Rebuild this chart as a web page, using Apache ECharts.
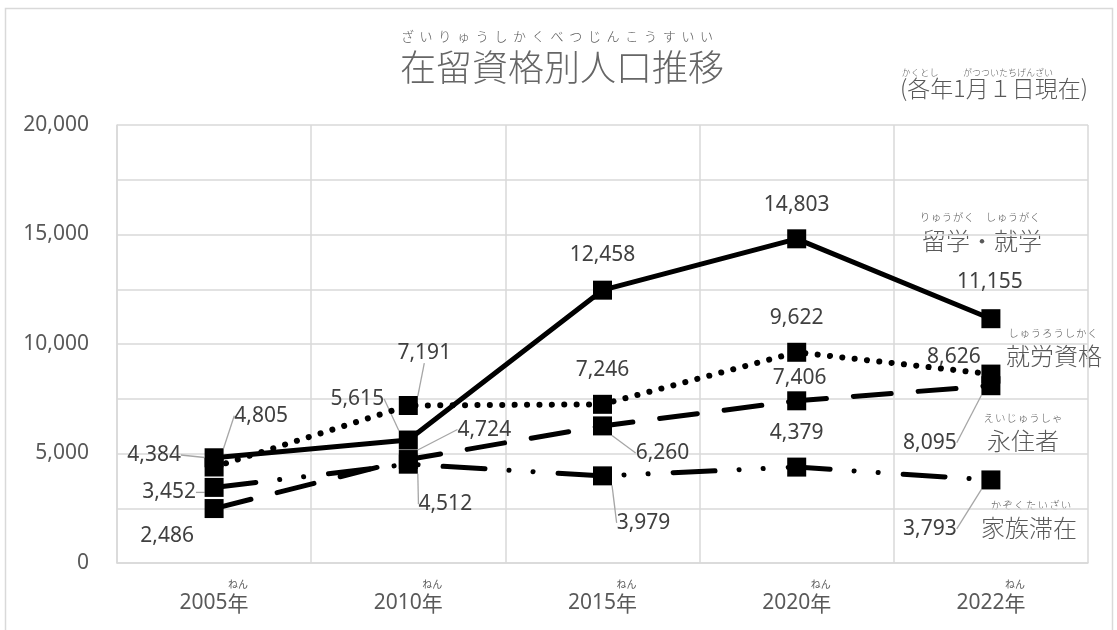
<!DOCTYPE html>
<html><head><meta charset="utf-8">
<script src="https://cdn.jsdelivr.net/npm/echarts@6/dist/echarts.min.js"></script>
<style>html,body{margin:0;padding:0;background:#fff}#c{width:1117px;height:630px}</style>
</head><body><div id="c"></div>
<script>
// ---- data ----
const years = ['2005', '2010', '2015', '2020', '2022'];
const ryugaku = [4805, 5615, 12458, 14803, 11155];   // 留学・就学
const shuro   = [4384, 7191, 7246, 9622, 8626];      // 就労資格
const eiju    = [2486, 4724, 6260, 7406, 8095];      // 永住者
const kazoku  = [3452, 4512, 3979, 4379, 3793];      // 家族滞在
const yTicks  = [0, 5000, 10000, 15000, 20000];

// ---- styles (label offsets relative to the point, leader-line flags) ----
const labelOffsets = [
  [[47,-42],[-51,-41],[0,-35],[0,-34],[-1,-37]],
  [[-60,-12],[16,-53],[0,-34],[0,-34],[-37,-17]],
  [[-47,27],[76,-30],[60,27],[3,-23],[-61,57]],
  [[-45,5],[37,40],[41,47],[0,-34],[-61,49]]
];
const leaders = [
  [1,1,0,0,0],
  [1,1,0,0,0],
  [0,1,1,0,1],
  [1,1,1,0,1]
];

const GRAY = '#595959', LBL = '#404040', GRID = '#d9d9d9';
const NUM = '"Noto Sans", sans-serif';
const JP = '"Noto Sans CJK JP", sans-serif';
const fmt = v => Number(v).toLocaleString('en-US');

const seriesDefs = [
  {name: '留学・就学', data: ryugaku, width: 5, type: 'solid', cap: 'butt'},
  {name: '就労資格', data: shuro, width: 6, type: [0.1, 12.3], cap: 'round'},
  {name: '永住者', data: eiju, width: 5, type: [38, 27], cap: 'round'},
  {name: '家族滞在', data: kazoku, width: 5, type: [42, 24, 0.1, 24, 0.1, 25], cap: 'round'}
];

function ruby(str, cx, cy, step, size) {
  const chars = Array.from(str);
  const n = chars.length;
  return chars.map((c, i) => ({
    type: 'text', silent: true,
    x: cx - (n - 1) / 2 * step + i * step, y: cy,
    style: {text: c, fill: GRAY, fontSize: size, fontFamily: JP, fontWeight: 300, textAlign: 'center', textVerticalAlign: 'middle'}
  }));
}
function txt(str, cx, cy, size, color) {
  return {type: 'text', silent: true, x: cx, y: cy,
    style: {text: str, fill: color || GRAY, fontSize: size, fontFamily: JP, fontWeight: 300, textAlign: 'center', textVerticalAlign: 'middle'}};
}

const graphics = [
  {type: 'rect', silent: true, z: -10, shape: {x: 5.5, y: 8.5, width: 1107, height: 640},
   style: {fill: 'none', stroke: GRID, lineWidth: 1.5}},
  ...ruby('ざいりゅうしかくべつじんこうすいい', 557, 36, 18.7, 13),
  txt('在留資格別人口推移', 562, 67, 36, '#666666'),
  ...ruby('かくとし', 920, 73, 9.3, 9),
  ...ruby('がつついたちげんざい', 1008, 73, 9, 9),
  txt('(各年1月１日現在)', 994, 88, 23),
  ...ruby('りゅうがく　しゅうがく', 980, 217, 11, 10.5),
  txt('留学・就学', 982, 241, 24),
  ...ruby('しゅうろうしかく', 1053, 333, 11.3, 10.5),
  txt('就労資格', 1054, 356, 24),
  ...ruby('えいじゅうしゃ', 1023, 418, 11.4, 10.5),
  txt('永住者', 1023, 441, 24),
  ...ruby('かぞくたいざい', 1031, 505, 11.7, 10.5),
  txt('家族滞在', 1029, 528, 24)
];

const chart = echarts.init(document.getElementById('c'), null, {renderer: 'canvas'});
chart.setOption({
  animation: false,
  backgroundColor: '#fff',
  grid: {left: 117, right: 29, top: 125, bottom: 67},
  xAxis: {
    type: 'category', data: years, boundaryGap: true,
    axisLine: {show: true, lineStyle: {color: GRID, width: 1.5}},
    axisTick: {show: false},
    splitLine: {show: true, lineStyle: {color: GRID, width: 1.5}},
    axisLabel: {
      margin: 15, interval: 0,
      formatter: v => '{sp|}{r|ねん}\n{d|' + v + '}{k|年}',
      rich: {
        sp: {width: 48, height: 12, lineHeight: 12},
        r: {fontSize: 10, fontFamily: JP, color: GRAY, lineHeight: 12, width: 21, align: 'center'},
        d: {fontSize: 21, fontFamily: NUM, color: GRAY, lineHeight: 26},
        k: {fontSize: 21, fontFamily: JP, color: GRAY, lineHeight: 26}
      }
    }
  },
  yAxis: {
    type: 'value', min: yTicks[0], max: yTicks[yTicks.length - 1], interval: yTicks[1] - yTicks[0],
    axisLine: {show: true, lineStyle: {color: GRID, width: 1.5}},
    axisTick: {show: false},
    axisLabel: {margin: 28, fontFamily: NUM, fontSize: 21, color: GRAY, formatter: v => fmt(v)},
    splitLine: {show: true, lineStyle: {color: GRID, width: 1.5}},
    minorTick: {show: false, splitNumber: 2},
    minorSplitLine: {show: true, lineStyle: {color: GRID, width: 1.5}}
  },
  graphic: graphics,
  series: seriesDefs.map((s, si) => ({
    type: 'line', name: s.name,
    data: s.data.map((v, i) => ({value: v, labelLine: {show: !!leaders[si][i]}})),
    symbol: 'rect', symbolSize: 19, showSymbol: true,
    itemStyle: {color: '#000'},
    lineStyle: {color: '#000', width: s.width, type: s.type, cap: s.cap},
    label: {show: true, position: 'inside', formatter: p => fmt(p.value), fontFamily: NUM, fontSize: 21, color: LBL},
    labelLine: {show: false, lineStyle: {color: '#a6a6a6', width: 1.3}},
    labelLayout: p => ({dx: labelOffsets[si][p.dataIndex][0], dy: labelOffsets[si][p.dataIndex][1]}),
    emphasis: {disabled: true},
    z: 2 + si
  }))
});
</script>
</body></html>
